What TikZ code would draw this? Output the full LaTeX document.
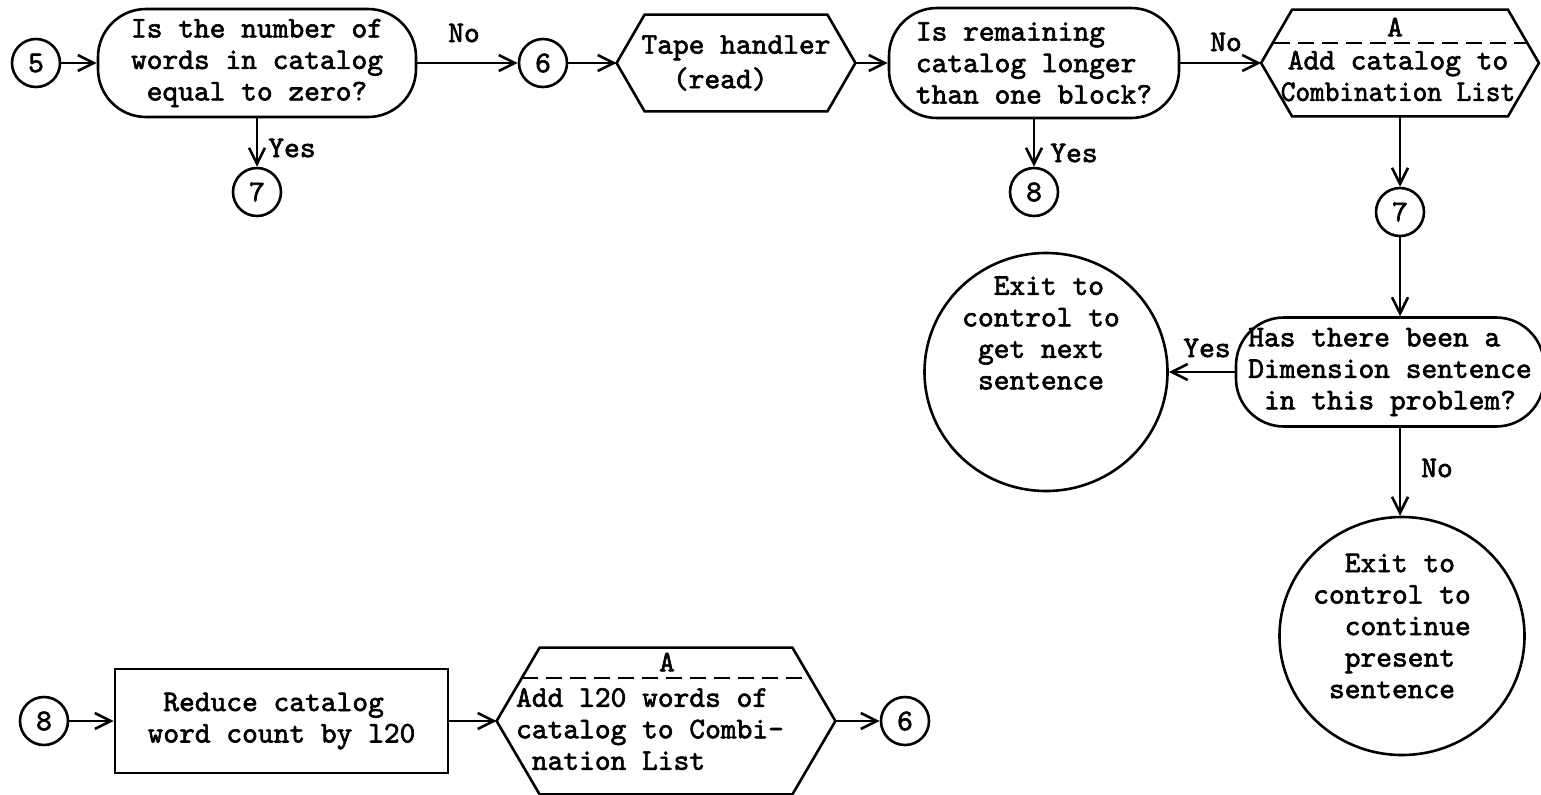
\documentclass[tikz,border=0pt]{standalone}
\usepackage{fontspec}
\usetikzlibrary{arrows.meta,shapes.geometric}
\newfontfamily\dgtt{lmmono10-regular.otf}[FakeBold=2]
\newcommand\dgfont{\fontsize{15}{15.75}\selectfont\dgtt}
\tikzset{
  every node/.style={font=\dgfont, inner sep=0pt},
  shapeline/.style={line width=1.3pt},
  conn/.style={line width=1.3pt, -{Straight Barb[length=8pt,width=8pt]}},
  connector/.style={circle, draw, shapeline, minimum size=24pt},
  decision/.style={rectangle, draw, shapeline, rounded corners=24pt, align=left},
  hexarea/.style={rectangle, align=left},
  exitcircle/.style={ellipse, draw, shapeline},
  sepline/.style={line width=1.1pt, dash pattern=on 8pt off 4pt},
  lbl/.style={inner sep=0pt}
}
\begin{document}
\begin{tikzpicture}[x=0.5pt,y=-0.5pt]
\useasboundingbox (0,0) rectangle (1541,794);

% ---------- top row ----------
\node[connector] (c5) at (36,63) {5};
\node[decision, minimum width=159pt, minimum height=54pt] (d1) at (257,63)
  {Is the number of\\words in catalog\\\hphantom{x}equal to zero?};
\node[connector] (c7a) at (257,192) {7};
\node[connector] (c6a) at (543,63) {6};

\node[hexarea, minimum width=119pt, minimum height=48pt] (tape) at (736,63)
  {Tape handler\\[1.5pt]\hphantom{xx}(read)};
\draw[shapeline] (tape.west) -- ([xshift=14pt]tape.north west) -- ([xshift=-14pt]tape.north east)
  -- (tape.east) -- ([xshift=-14pt]tape.south east) -- ([xshift=14pt]tape.south west) -- cycle;

\node[decision, minimum width=145pt, minimum height=55pt] (d2) at (1034,63)
  {Is remaining\\catalog longer\\than one block?};
\node[connector] (c8a) at (1034,192) {8};

\node[hexarea, minimum width=138.5pt, minimum height=53pt] (hA) at (1400,63) {};
\draw[shapeline] (hA.west) -- ([xshift=15.5pt]hA.north west) -- ([xshift=-15.5pt]hA.north east)
  -- (hA.east) -- ([xshift=-15.5pt]hA.south east) -- ([xshift=15.5pt]hA.south west) -- cycle;
\node[lbl] (hAa) at (1395,27) {A};
\draw[sepline] (1274,43) -- (1527,43);
\node[lbl, align=center] (hAt) at (1398,76) {Add catalog to\\\scalebox{0.93}[1]{Combination List}};

\node[connector] (c7b) at (1400,212) {7};

% ---------- right column ----------
\node[decision, minimum width=154pt, minimum height=54.5pt] (d3) at (1390,372)
  {Has there been a\\Dimension sentence\\\hphantom{x}in this problem?};

\node[exitcircle, minimum width=121.5pt, minimum height=119pt] (x1) at (1046,372) {};
\node[lbl, align=left] (x1t) at (1041,333)
  {\hphantom{xx}Exit to\\control to\\\hphantom{x}get next\\\hphantom{x}sentence};

\node[exitcircle, minimum width=122.5pt, minimum height=119pt] (x2) at (1402,636) {};
\node[lbl, align=left] (x2t) at (1392,626)
  {\hphantom{xx}Exit to\\control to\\\hphantom{xx}continue\\\hphantom{xx}present\\\hphantom{x}sentence};

% ---------- bottom row ----------
\node[connector] (c8b) at (44,721) {8};
\node[rectangle, draw, shapeline, minimum width=166.5pt, minimum height=52pt, align=left] (rb) at (281.5,721)
  {\hphantom{x}Reduce catalog\\word count by l20};
\node[hexarea, minimum width=169pt, minimum height=73pt] (hB) at (666,721) {};
\draw[shapeline] (hB.west) -- ([xshift=21.5pt]hB.north west) -- ([xshift=-21.5pt]hB.north east)
  -- (hB.east) -- ([xshift=-21.5pt]hB.south east) -- ([xshift=21.5pt]hB.south west) -- cycle;
\node[lbl] (hBa) at (667,662) {A};
\draw[sepline] (522,678) -- (810,678);
\node[lbl, align=left] (hBt) at (650,729)
  {Add l20 words of\\catalog to Combi-\\\hphantom{x}nation List};
\node[connector] (c6b) at (905,721) {6};

% ---------- connectors ----------
\draw[conn] (c5.east) -- (d1.west);
\draw[conn] (d1.east) -- (c6a.west);
\draw[conn] (d1.south) -- (c7a.north);
\draw[conn] (c6a.east) -- (tape.west);
\draw[conn] (tape.east) -- (d2.west);
\draw[conn] (d2.south) -- (c8a.north);
\draw[conn] (d2.east) -- (hA.west);
\draw[conn] (hA.south) -- (c7b.north);
\draw[conn] (c7b.south) -- (c7b.south |- d3.north);
\draw[conn] (d3.west) -- (x1.east);
\draw[conn] (c7b |- d3.south) -- (c7b |- x2.north);
\draw[conn] (c8b.east) -- (rb.west);
\draw[conn] (rb.east) -- (hB.west);
\draw[conn] (hB.east) -- (c6b.west);

% ---------- labels ----------
\node[lbl] (l1) at (464,33) {No};
\node[lbl] (l2) at (292,148) {Yes};
\node[lbl] (l3) at (1226,42) {No};
\node[lbl] (l4) at (1074,153) {Yes};
\node[lbl] (l5) at (1207,348) {Yes};
\node[lbl] (l6) at (1437,468) {No};
\end{tikzpicture}
\end{document}
